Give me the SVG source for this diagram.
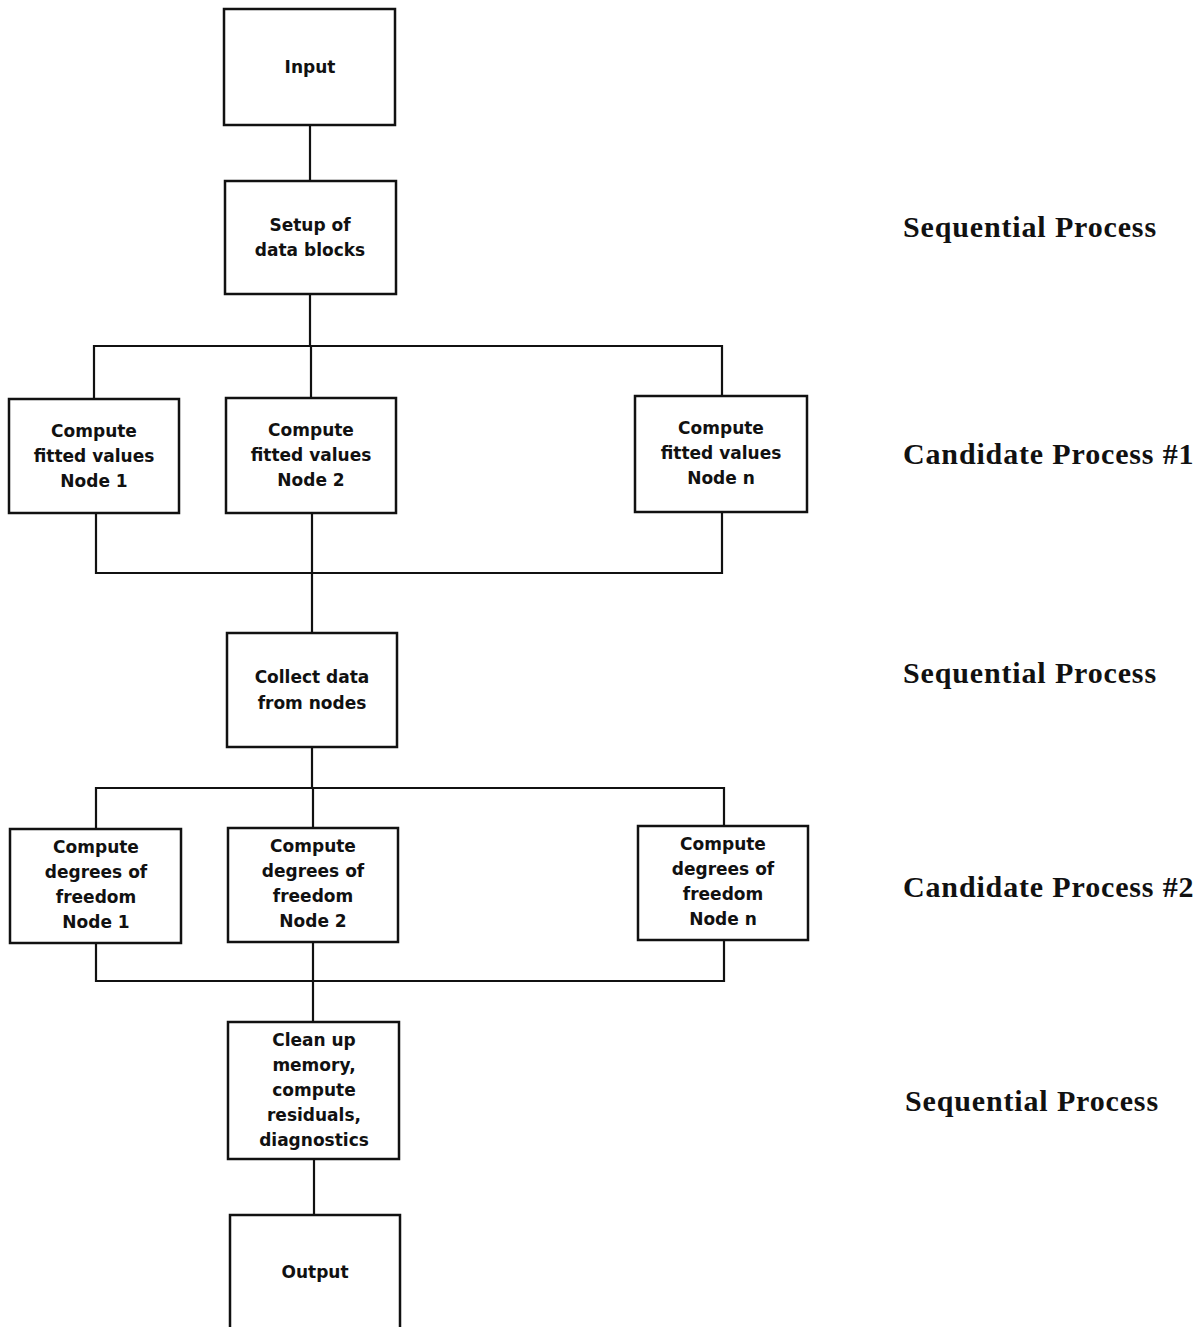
<svg xmlns="http://www.w3.org/2000/svg" width="1201" height="1327" viewBox="0 0 1201 1327">
<style>
.box{fill:#fff;stroke:#111;stroke-width:2.5}
.ln{fill:none;stroke:#111;stroke-width:2.2}
.t{font-family:"DejaVu Sans",sans-serif;font-weight:bold;font-size:17px;fill:#111;text-anchor:middle}
.lab{font-family:"Liberation Serif","Times New Roman",serif;font-weight:bold;font-size:30px;letter-spacing:0.85px;fill:#111}
</style>
<rect width="1201" height="1327" fill="#fff"/>
<g id="connectors" class="ln">
<path d="M310 125V181"/>
<path d="M310 294V346"/>
<path d="M94 399V346H722V396"/>
<path d="M311 346V398"/>
<path d="M96 513V573H722V512"/>
<path d="M312 513V633"/>
<path d="M312 747V788"/>
<path d="M96 829V788H724V826"/>
<path d="M313 788V828"/>
<path d="M96 943V981H724V940"/>
<path d="M313 942V1022"/>
<path d="M314 1159V1215"/>
</g>
<g id="input"><rect class="box" x="224" y="9" width="171" height="116"/><text class="t" x="310" y="73">Input</text></g>
<g id="setup"><rect class="box" x="225" y="181" width="171" height="113"/><text class="t" x="310" y="231">Setup of</text><text class="t" x="310" y="256">data blocks</text></g>
<g id="fit1"><rect class="box" x="9" y="399" width="170" height="114"/><text class="t" x="94" y="437">Compute</text><text class="t" x="94" y="462">fitted values</text><text class="t" x="94" y="487">Node 1</text></g>
<g id="fit2"><rect class="box" x="226" y="398" width="170" height="115"/><text class="t" x="311" y="436">Compute</text><text class="t" x="311" y="461">fitted values</text><text class="t" x="311" y="486">Node 2</text></g>
<g id="fitn"><rect class="box" x="635" y="396" width="172" height="116"/><text class="t" x="721" y="434">Compute</text><text class="t" x="721" y="459">fitted values</text><text class="t" x="721" y="484">Node n</text></g>
<g id="collect"><rect class="box" x="227" y="633" width="170" height="114"/><text class="t" x="312" y="683">Collect data</text><text class="t" x="312" y="709">from nodes</text></g>
<g id="dof1"><rect class="box" x="10" y="829" width="171" height="114"/><text class="t" x="96" y="853">Compute</text><text class="t" x="96" y="878">degrees of</text><text class="t" x="96" y="903">freedom</text><text class="t" x="96" y="928">Node 1</text></g>
<g id="dof2"><rect class="box" x="228" y="828" width="170" height="114"/><text class="t" x="313" y="852">Compute</text><text class="t" x="313" y="877">degrees of</text><text class="t" x="313" y="902">freedom</text><text class="t" x="313" y="927">Node 2</text></g>
<g id="dofn"><rect class="box" x="638" y="826" width="170" height="114"/><text class="t" x="723" y="850">Compute</text><text class="t" x="723" y="875">degrees of</text><text class="t" x="723" y="900">freedom</text><text class="t" x="723" y="925">Node n</text></g>
<g id="cleanup"><rect class="box" x="228" y="1022" width="171" height="137"/><text class="t" x="314" y="1046">Clean up</text><text class="t" x="314" y="1071">memory,</text><text class="t" x="314" y="1096">compute</text><text class="t" x="314" y="1121">residuals,</text><text class="t" x="314" y="1146">diagnostics</text></g>
<g id="output"><rect class="box" x="230" y="1215" width="170" height="140"/><text class="t" x="315" y="1278">Output</text></g>
<g id="labels">
<text class="lab" x="903" y="237">Sequential Process</text>
<text class="lab" x="903" y="464">Candidate Process #1</text>
<text class="lab" x="903" y="683">Sequential Process</text>
<text class="lab" x="903" y="897">Candidate Process #2</text>
<text class="lab" x="905" y="1111">Sequential Process</text>
</g>
</svg>
